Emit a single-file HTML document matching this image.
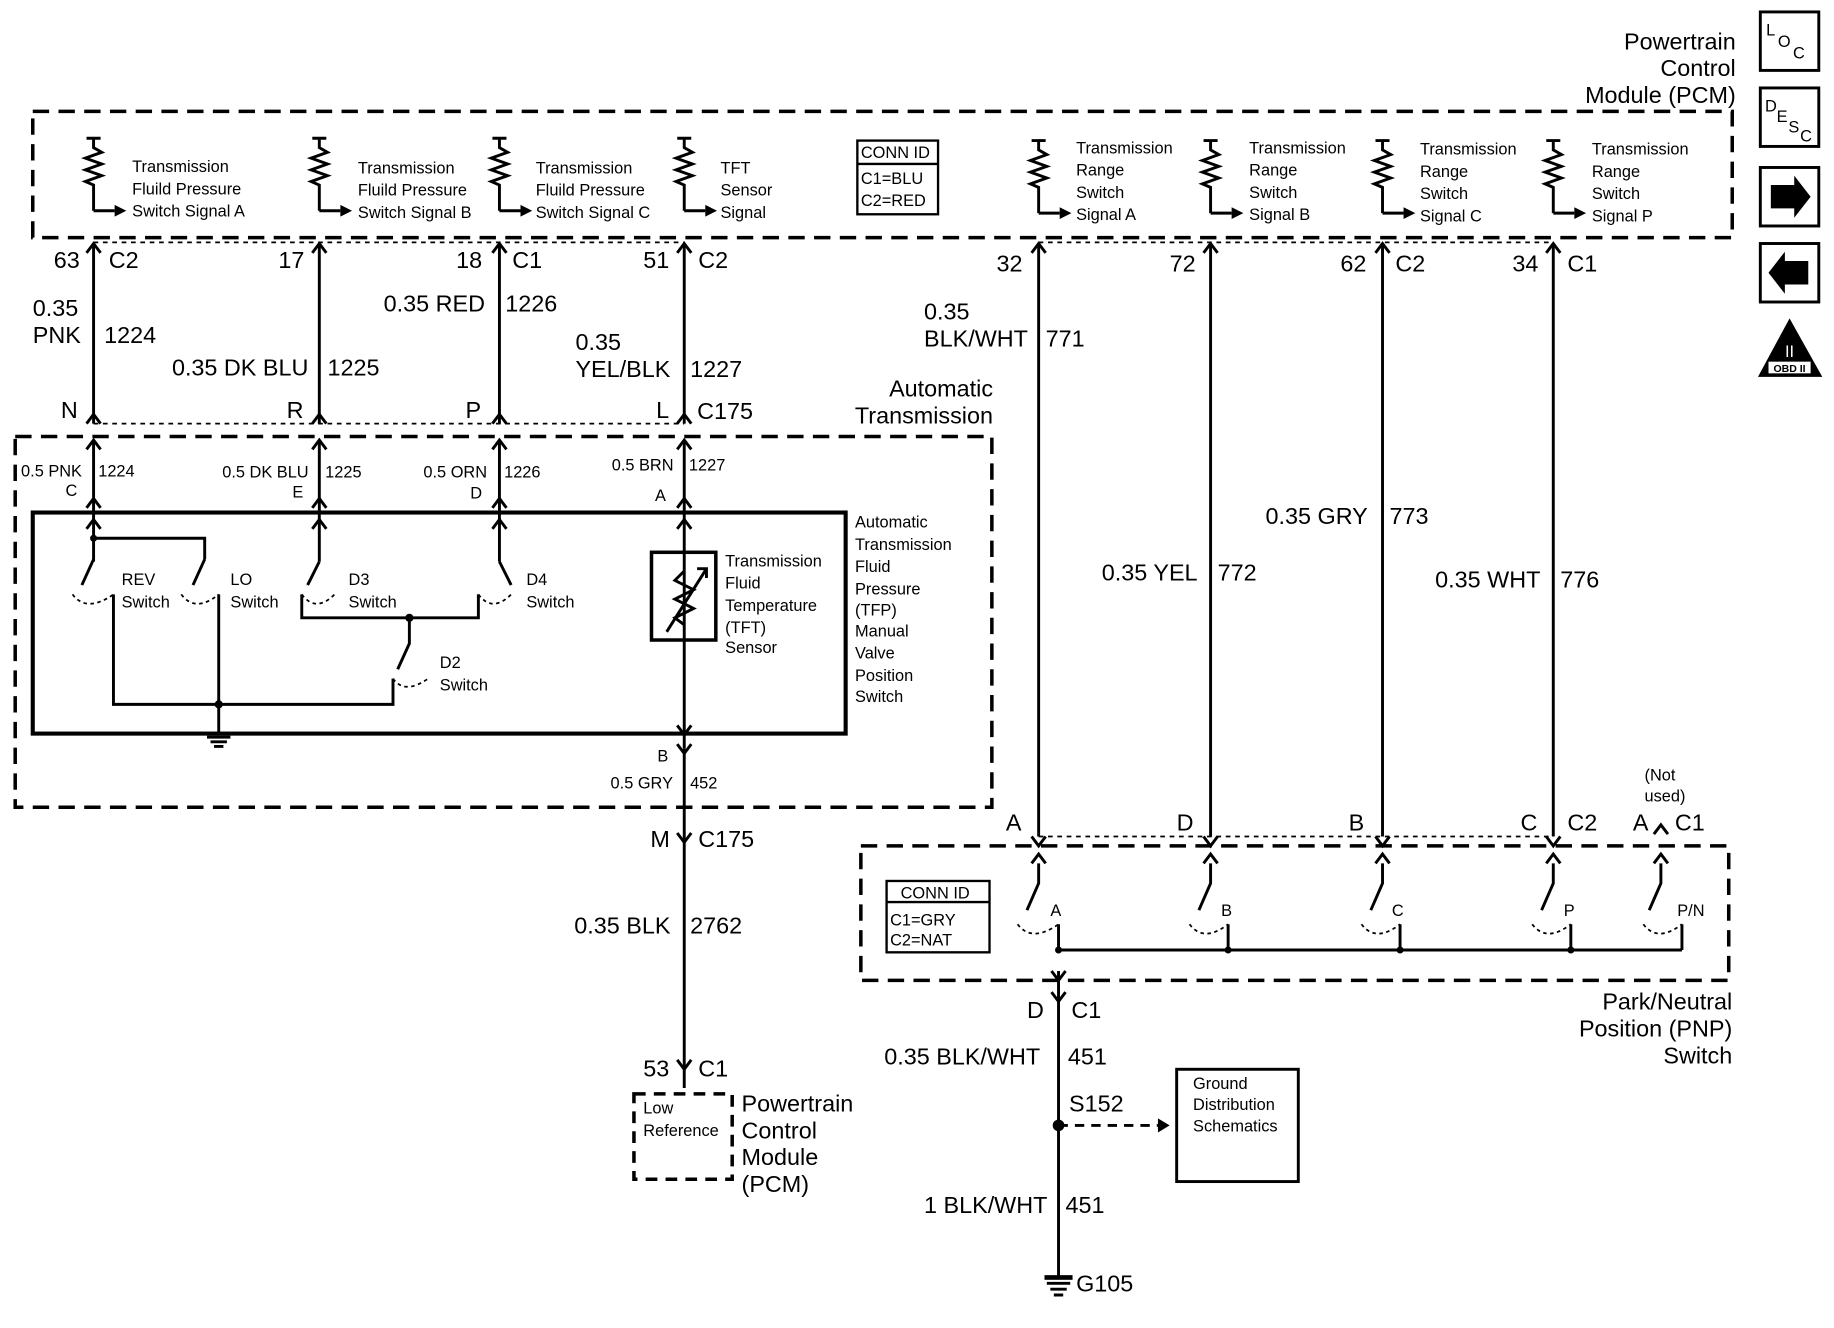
<!DOCTYPE html>
<html><head><meta charset="utf-8"><style>
html,body{margin:0;padding:0;background:#fff;}
svg{display:block;}
text{font-family:"Liberation Sans",Arial,sans-serif;fill:#000;}
.L{font-size:20px;}
.S{font-size:14px;}
.M{font-size:15px;}
</style></head><body>
<svg width="1834" height="1328" viewBox="0 0 1568 1135" xmlns="http://www.w3.org/2000/svg">
<rect width="1568" height="1135" fill="#fff"/>
<g stroke="#000" fill="none" stroke-width="2.5">
<!-- dashed boxes -->
<rect x="28" y="95" width="1453" height="108" stroke-dasharray="14,8" stroke-width="3"/>
<rect x="13" y="373" width="835" height="317" stroke-dasharray="14,8" stroke-width="3"/>
<rect x="736" y="723" width="742" height="115" stroke-dasharray="14,8" stroke-width="3"/>
<rect x="542" y="935" width="84" height="73" stroke-dasharray="10,7" stroke-width="3"/>
<!-- dotted connector housings -->
<path d="M80 362 H585 M888 715 H1328" stroke-dasharray="4,4" stroke-width="1.5"/>
<path d="M80 207 H585 M888 207 H1328" stroke-dasharray="4,4" stroke-width="1.5"/>
<!-- inner solid box -->
<rect x="28" y="438" width="695" height="189" stroke-width="3.5"/>
<!-- vertical wires -->
<path d="M80 208 V362 M273 208 V362 M427 208 V362 M585 208 V362"/>
<path d="M80 376 V480 M273 376 V480 M427 376 V480 M585 376 V640"/>
<path d="M888 208 V715 M1035 208 V715 M1182 208 V715 M1328 208 V715"/>
<path d="M585 640 V930 M905 830 V1092"/>
<!-- connector chevrons -->
<path d="M74 216 L80 208 L86 216 M267 216 L273 208 L279 216 M421 216 L427 208 L433 216 M579 216 L585 208 L591 216"/>
<path d="M882 216 L888 208 L894 216 M1029 216 L1035 208 L1041 216 M1176 216 L1182 208 L1188 216 M1322 216 L1328 208 L1334 216"/>
<path d="M74 362 L80 354 L86 362 M267 362 L273 354 L279 362 M421 362 L427 354 L433 362 M579 362 L585 354 L591 362"/>
<path d="M74 384 L80 376 L86 384 M267 384 L273 376 L279 384 M421 384 L427 376 L433 384 M579 384 L585 376 L591 384"/>
<path d="M74 434 L80 426 L86 434 M267 434 L273 426 L279 434 M421 434 L427 426 L433 434 M579 434 L585 426 L591 434"/>
<path d="M74 452 L80 444 L86 452 M267 452 L273 444 L279 452 M421 452 L427 444 L433 452 M579 452 L585 444 L591 452"/>
<path d="M579 620 L585 628 L591 620 M579 636 L585 644 L591 636 M579 712 L585 720 L591 712 M579 906 L585 914 L591 906"/>
<path d="M882 715 L888 723 L894 715 M1029 715 L1035 723 L1041 715 M1176 715 L1182 723 L1188 715 M1322 715 L1328 723 L1334 715"/>
<path d="M882 738 L888 730 L894 738 M1029 738 L1035 730 L1041 738 M1176 738 L1182 730 L1188 738 M1322 738 L1328 730 L1334 738 M1414 738 L1420 730 L1426 738 M1414 713 L1420 705 L1426 713"/>
<path d="M899 830 L905 838 L911 830 M899 848 L905 856 L911 848"/>
<!-- resistors -->
<path d="M80 118 V126 l7 4 -14 5 14 5 -14 5 14 5 -14 5 7 3 V180 M74 118 H86"/>
<path d="M273 118 V126 l7 4 -14 5 14 5 -14 5 14 5 -14 5 7 3 V180 M267 118 H279"/>
<path d="M427 118 V126 l7 4 -14 5 14 5 -14 5 14 5 -14 5 7 3 V180 M421 118 H433"/>
<path d="M585 118 V126 l7 4 -14 5 14 5 -14 5 14 5 -14 5 7 3 V180 M579 118 H591"/>
<path d="M888 120 V128 l7 4 -14 5 14 5 -14 5 14 5 -14 5 7 3 V182 M882 120 H894"/>
<path d="M1035 120 V128 l7 4 -14 5 14 5 -14 5 14 5 -14 5 7 3 V182 M1029 120 H1041"/>
<path d="M1182 120 V128 l7 4 -14 5 14 5 -14 5 14 5 -14 5 7 3 V182 M1176 120 H1188"/>
<path d="M1328 120 V128 l7 4 -14 5 14 5 -14 5 14 5 -14 5 7 3 V182 M1322 120 H1334"/>
<path d="M80 180 H98 M273 180 H291 M427 180 H445 M585 180 H603 M888 182 H906 M1035 182 H1053 M1182 182 H1200 M1328 182 H1346"/>
<!-- switches in trans -->
<path d="M80 460 H175 V478 M80 478 L70 500 M175 478 L165 500"/>
<path d="M97 508 V602 H336 V580 M187 508 V627 M273 480 L263 500 M427 480 L437 500"/>
<path d="M258 508 V528 H409 V508 M350 528 V550 L340 572"/>
<path d="M62 508 q12 16 35 0 M155 508 q12 16 32 0 M258 508 q12 16 28 0 M409 508 q12 16 28 0 M336 580 q10 14 30 0" stroke-dasharray="3,3" stroke-width="1.5"/>
<!-- TFT sensor -->
<rect x="557" y="472" width="55" height="75" stroke-width="3"/>
<path d="M585 488 l-8 8 16 8 -16 8 16 8 -16 8 8 6 M570 540 L604 486 M596 486 h8 v8"/>
<!-- ground in trans -->
<path d="M177 630 H197 M180 634 H194 M183 638 H191"/>
<!-- PNP switches -->
<path d="M888 738 V755 L878 778 M1035 738 V755 L1025 778 M1182 738 V755 L1172 778 M1328 738 V755 L1318 778 M1420 738 V755 L1410 778"/>
<path d="M905 790 V812 M1050 790 V812 M1197 790 V812 M1343 790 V812 M1438 790 V812 M905 812 H1438"/>
<path d="M870 790 q12 16 35 0 M1017 790 q12 16 33 0 M1164 790 q12 16 33 0 M1310 790 q12 16 33 0 M1405 790 q12 16 33 0" stroke-dasharray="3,3" stroke-width="1.5"/>
<!-- conn id boxes -->
<rect x="733" y="120" width="69" height="63" stroke-width="2"/>
<path d="M733 140 H802" stroke-width="2"/>
<rect x="758" y="753" width="88" height="61" stroke-width="2"/>
<path d="M758 771 H846" stroke-width="2"/>
<!-- ground dist -->
<rect x="1006" y="914" width="104" height="96" stroke-width="2.5"/>
<path d="M905 962 H990" stroke-dasharray="8,6"/>
<!-- G105 -->
<path d="M895 1097 H915 M898 1102 H912 M901 1107 H909"/>
<!-- icons -->
<rect x="1505" y="10" width="50" height="50"/>
<rect x="1505" y="75" width="50" height="50"/>
<rect x="1505" y="143" width="50" height="50"/>
<rect x="1505" y="208" width="50" height="50"/>
</g>
<g fill="#000">
<polygon points="990,956 1000,962 990,968"/>
<circle cx="905" cy="962" r="5"/>
<circle cx="187" cy="602" r="3.5"/><circle cx="350" cy="528" r="3.5"/>
<circle cx="80" cy="460" r="3"/>
<circle cx="905" cy="812" r="3"/><circle cx="1050" cy="812" r="3"/><circle cx="1197" cy="812" r="3"/><circle cx="1343" cy="812" r="3"/>
<polygon points="98,175 108,180 98,185"/><polygon points="291,175 301,180 291,185"/><polygon points="445,175 455,180 445,185"/><polygon points="603,175 613,180 603,185"/>
<polygon points="906,177 916,182 906,187"/><polygon points="1053,177 1063,182 1053,187"/><polygon points="1200,177 1210,182 1200,187"/><polygon points="1346,177 1356,182 1346,187"/>
<polygon points="1514,158 1534,158 1534,150 1548,168 1534,186 1534,178 1514,178"/>
<polygon points="1546,223 1526,223 1526,215 1512,233 1526,251 1526,243 1546,243"/>
<polygon points="1530,272 1558,322 1503,322"/>
<rect x="1506" y="208" width="0" height="0"/>
<rect x="893" y="1090" width="24" height="4"/>
</g>
<rect x="1512" y="309" width="36" height="10" fill="#fff"/>
<text x="1530" y="318" font-size="9" text-anchor="middle" font-weight="bold">OBD II</text>
<text x="1530" y="305" font-size="14" text-anchor="middle" fill="#fff" style="fill:#fff">II</text>
<text x="1510" y="30" font-size="14">L</text><text x="1520" y="40" font-size="14">O</text><text x="1533" y="50" font-size="14">C</text>
<text x="1509" y="95" font-size="14">D</text><text x="1519" y="104" font-size="14">E</text><text x="1529" y="113" font-size="14">S</text><text x="1539" y="121" font-size="14">C</text>

<g class="L">
<text x="1484" y="42" text-anchor="end">Powertrain</text>
<text x="1484" y="65" text-anchor="end">Control</text>
<text x="1484" y="88" text-anchor="end">Module (PCM)</text>
<text x="46" y="229">63</text><text x="93" y="229">C2</text>
<text x="238" y="229">17</text>
<text x="390" y="229">18</text><text x="438" y="229">C1</text>
<text x="550" y="229">51</text><text x="597" y="229">C2</text>
<text x="852" y="232">32</text>
<text x="1000" y="232">72</text>
<text x="1146" y="232">62</text><text x="1193" y="232">C2</text>
<text x="1293" y="232">34</text><text x="1340" y="232">C1</text>
<text x="28" y="270">0.35</text><text x="28" y="293">PNK</text><text x="89" y="293">1224</text>
<text x="147" y="321">0.35 DK BLU</text><text x="280" y="321">1225</text>
<text x="328" y="266">0.35 RED</text><text x="432" y="266">1226</text>
<text x="492" y="299">0.35</text><text x="492" y="322">YEL/BLK</text><text x="590" y="322">1227</text>
<text x="790" y="273">0.35</text><text x="790" y="296">BLK/WHT</text><text x="894" y="296">771</text>
<text x="52" y="357">N</text><text x="245" y="357">R</text><text x="398" y="357">P</text><text x="561" y="357">L</text><text x="596" y="358">C175</text>
<text x="849" y="339" text-anchor="end">Automatic</text>
<text x="849" y="362" text-anchor="end">Transmission</text>
<text x="1082" y="448">0.35 GRY</text><text x="1188" y="448">773</text>
<text x="942" y="496">0.35 YEL</text><text x="1041" y="496">772</text>
<text x="1227" y="502">0.35 WHT</text><text x="1334" y="502">776</text>
<text x="860" y="710">A</text><text x="1006" y="710">D</text><text x="1153" y="710">B</text><text x="1300" y="710">C</text><text x="1340" y="710">C2</text>
<text x="1396" y="710">A</text><text x="1432" y="710">C1</text>
<text x="556" y="724">M</text><text x="597" y="724">C175</text>
<text x="491" y="798">0.35 BLK</text><text x="590" y="798">2762</text>
<text x="550" y="920">53</text><text x="597" y="920">C1</text>
<text x="634" y="950">Powertrain</text><text x="634" y="973">Control</text><text x="634" y="996">Module</text><text x="634" y="1019">(PCM)</text>
<text x="878" y="870">D</text><text x="916" y="870">C1</text>
<text x="756" y="910">0.35 BLK/WHT</text><text x="913" y="910">451</text>
<text x="914" y="950">S152</text>
<text x="790" y="1037">1 BLK/WHT</text><text x="911" y="1037">451</text>
<text x="920" y="1104">G105</text>
<text x="1481" y="863" text-anchor="end">Park/Neutral</text>
<text x="1481" y="886" text-anchor="end">Position (PNP)</text>
<text x="1481" y="909" text-anchor="end">Switch</text>
</g>
<g class="S">
<text x="113" y="147">Transmission</text><text x="113" y="166">Fluild Pressure</text><text x="113" y="185">Switch Signal A</text>
<text x="306" y="148">Transmission</text><text x="306" y="167">Fluild Pressure</text><text x="306" y="186">Switch Signal B</text>
<text x="458" y="148">Transmission</text><text x="458" y="167">Fluild Pressure</text><text x="458" y="186">Switch Signal C</text>
<text x="616" y="148">TFT</text><text x="616" y="167">Sensor</text><text x="616" y="186">Signal</text>
<text x="920" y="131">Transmission</text><text x="920" y="150">Range</text><text x="920" y="169">Switch</text><text x="920" y="188">Signal A</text>
<text x="1068" y="131">Transmission</text><text x="1068" y="150">Range</text><text x="1068" y="169">Switch</text><text x="1068" y="188">Signal B</text>
<text x="1214" y="132">Transmission</text><text x="1214" y="151">Range</text><text x="1214" y="170">Switch</text><text x="1214" y="189">Signal C</text>
<text x="1361" y="132">Transmission</text><text x="1361" y="151">Range</text><text x="1361" y="170">Switch</text><text x="1361" y="189">Signal P</text>
<text x="736" y="135">CONN ID</text><text x="736" y="157">C1=BLU</text><text x="736" y="176">C2=RED</text>
<text x="770" y="768">CONN ID</text><text x="761" y="791">C1=GRY</text><text x="761" y="808">C2=NAT</text>
<text x="18" y="407">0.5 PNK</text><text x="84" y="407">1224</text><text x="56" y="424">C</text>
<text x="190" y="408">0.5 DK BLU</text><text x="278" y="408">1225</text><text x="250" y="425">E</text>
<text x="362" y="408">0.5 ORN</text><text x="431" y="408">1226</text><text x="402" y="426">D</text>
<text x="523" y="402">0.5 BRN</text><text x="589" y="402">1227</text><text x="560" y="428">A</text>
<text x="104" y="500">REV</text><text x="104" y="519">Switch</text>
<text x="197" y="500">LO</text><text x="197" y="519">Switch</text>
<text x="298" y="500">D3</text><text x="298" y="519">Switch</text>
<text x="450" y="500">D4</text><text x="450" y="519">Switch</text>
<text x="376" y="571">D2</text><text x="376" y="590">Switch</text>
<text x="620" y="484">Transmission</text><text x="620" y="503">Fluid</text><text x="620" y="522">Temperature</text><text x="620" y="541">(TFT)</text><text x="620" y="558">Sensor</text>
<text x="731" y="451">Automatic</text><text x="731" y="470">Transmission</text><text x="731" y="489">Fluid</text><text x="731" y="508">Pressure</text><text x="731" y="526">(TFP)</text><text x="731" y="544">Manual</text><text x="731" y="563">Valve</text><text x="731" y="582">Position</text><text x="731" y="600">Switch</text>
<text x="562" y="651">B</text>
<text x="522" y="674">0.5 GRY</text><text x="590" y="674">452</text>
<text x="898" y="783">A</text><text x="1044" y="783">B</text><text x="1190" y="783">C</text><text x="1337" y="783">P</text><text x="1434" y="783">P/N</text>
<text x="1406" y="667">(Not</text><text x="1406" y="685">used)</text>
<text x="550" y="952">Low</text><text x="550" y="971">Reference</text>
<text x="1020" y="931">Ground</text><text x="1020" y="949">Distribution</text><text x="1020" y="967">Schematics</text>
</g>
</svg>
</body></html>
